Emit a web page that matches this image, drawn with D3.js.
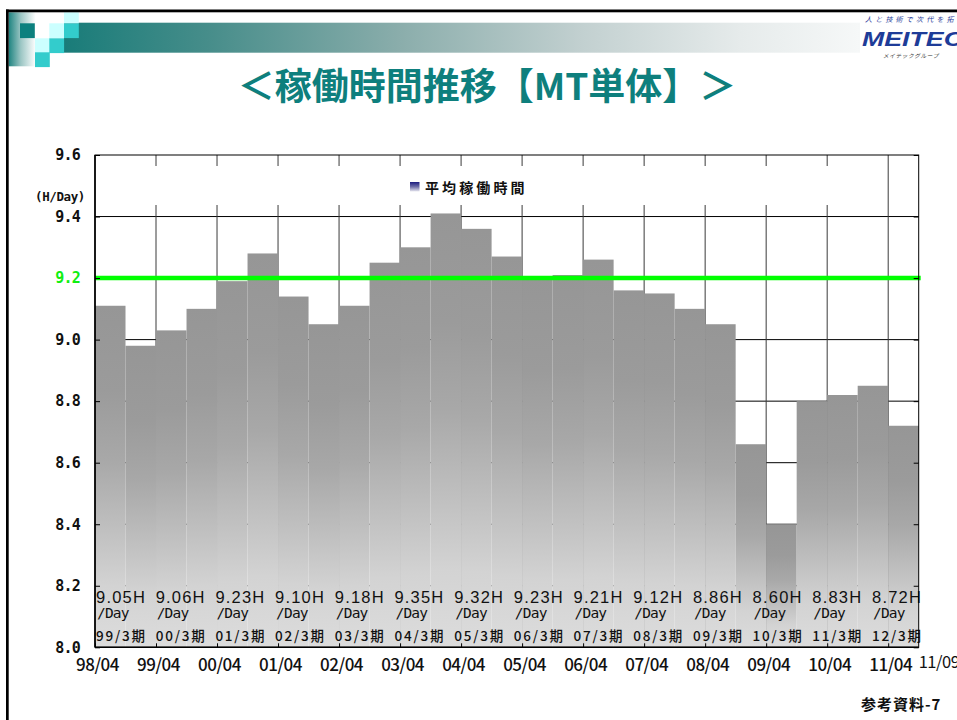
<!DOCTYPE html>
<html>
<head>
<meta charset="utf-8">
<script src="https://cdn.jsdelivr.net/npm/d3@7"></script>
<style>
  html, body { margin: 0; padding: 0; background: #fff; overflow: hidden; }
  svg { display: block; }
</style>
</head>
<body>
<svg id="slide" width="957" height="720"></svg>
<script>
// ---- data -------------------------------------------------------------
// start month of each half-year period
const periods = [
  "1998-04","1998-10","1999-04","1999-10","2000-04","2000-10","2001-04","2001-10",
  "2002-04","2002-10","2003-04","2003-10","2004-04","2004-10","2005-04","2005-10",
  "2006-04","2006-10","2007-04","2007-10","2008-04","2008-10","2009-04","2009-10",
  "2010-04","2010-10","2011-04"
];
// average working hours per day for each half-year
const hours = [
  9.11, 8.98, 9.03, 9.10, 9.19, 9.28, 9.14, 9.05,
  9.11, 9.25, 9.30, 9.41, 9.36, 9.27, 9.20, 9.21,
  9.26, 9.16, 9.15, 9.10, 9.05, 8.66, 8.40, 8.80,
  8.82, 8.85, 8.72
];
const targetHours = 9.2;
const yTicks = [8.0, 8.2, 8.4, 8.6, 8.8, 9.0, 9.2, 9.4, 9.6];
const xTickLabels = ["98/04","99/04","00/04","01/04","02/04","03/04","04/04",
                     "05/04","06/04","07/04","08/04","09/04","10/04","11/04"];
const endTickLabel = "11/09";
// fiscal-year averages (H/Day)
const fiscalTerms = ["99/3期","00/3期","01/3期","02/3期","03/3期","04/3期","05/3期",
                     "06/3期","07/3期","08/3期","09/3期","10/3期","11/3期","12/3期"];
const fiscalAvg = [9.05, 9.06, 9.23, 9.10, 9.18, 9.35, 9.32,
                   9.23, 9.21, 9.12, 8.86, 8.60, 8.83, 8.72];
const legendLabel = "平均稼働時間";
const unitLabel = "(H/Day)";
const titleText = "＜稼働時間推移【MT単体】＞";

// ---- setup ------------------------------------------------------------
const svg = d3.select("#slide");
const defs = svg.append("defs");
const parseMonth = d3.timeParse("%Y-%m");
const parseTick = d3.timeParse("%y/%m");
const origin = parseMonth(periods[0]);
const monthIndex = d => d3.timeMonth.count(origin, d);
const lastStart = parseMonth(periods[periods.length - 1]);
const endMonth = monthIndex(lastStart) + 6;

const plot = { left: 95, right: 918.7, top: 155, bottom: 647.3 };
const x = d3.scaleLinear().domain([0, endMonth]).range([plot.left, plot.right]);
const y = d3.scaleLinear().domain([8.0, 9.6]).range([plot.bottom, plot.top]);

const monoFont = "'DejaVu Sans Mono', 'Liberation Mono', monospace";
const cjkFont = "'Noto Sans CJK JP', 'Noto Sans', sans-serif";
const sansFont = "'Liberation Sans', Arial, sans-serif";

// ---- gradients --------------------------------------------------------
function linGrad(id, x2, y2, stops) {
  const g = defs.append("linearGradient").attr("id", id)
    .attr("x1", 0).attr("y1", 0).attr("x2", x2).attr("y2", y2);
  stops.forEach(([o, c]) => g.append("stop").attr("offset", o).attr("stop-color", c));
}
linGrad("headBar", 1, 0, [[0, "#197c79"], [0.18, "#468d8a"], [0.42, "#8aadab"],
                          [0.65, "#c2d0d0"], [0.85, "#e6ebeb"], [1, "#f6f8f8"]]);
linGrad("edgeStrip", 1, 0, [[0, "#1f8481"], [0.45, "#9cc6c4"], [1, "#ffffff"]]);
linGrad("barFill", 0, 1, [[0, "#969696"], [0.25, "#9b9b9b"], [0.45, "#a8a8a8"],
                          [0.65, "#bfbfbf"], [0.82, "#d3d3d3"], [1, "#dcdcdc"]]);
linGrad("legendKey", 0, 1, [[0, "#1c1c80"], [0.5, "#6f6fa8"], [1, "#e8e8f0"]]);

// ---- slide frame and header decoration --------------------------------
svg.append("rect").attr("width", 957).attr("height", 720).attr("fill", "#fff");
svg.append("rect").attr("x", 8.7).attr("y", 12.3).attr("width", 27).attr("height", 54)
  .attr("fill", "url(#edgeStrip)");
svg.append("rect").attr("x", 64).attr("y", 22.7).attr("width", 796).attr("height", 30)
  .attr("fill", "url(#headBar)");
const tiles = [
  [20, 23.3, "#0b807e"], [49.3, 23.3, "#ccffff"], [64, 23.3, "#33cccc"],
  [35, 38.3, "#ccffff"], [49.3, 38.3, "#33cccc"], [35, 52.3, "#33cccc"]
];
svg.selectAll("rect.tile").data(tiles).join("rect").attr("class", "tile")
  .attr("x", d => d[0]).attr("y", d => d[1]).attr("width", 14.8).attr("height", 14.8)
  .attr("fill", d => d[2]);
svg.append("rect").attr("x", 64).attr("y", 12.3).attr("width", 14.8).attr("height", 11)
  .attr("fill", "#ccffff");
svg.append("rect").attr("x", 6).attr("y", 9.5).attr("width", 951).attr("height", 2.8).attr("fill", "#000");
svg.append("rect").attr("x", 6).attr("y", 9.5).attr("width", 2.7).attr("height", 711).attr("fill", "#000");

// company mark
svg.append("text").attr("x", 865).attr("y", 21.5)
  .attr("font-family", cjkFont).attr("font-size", 7).attr("font-style", "italic")
  .attr("letter-spacing", 3.2).attr("fill", "#1f3d9a").text("人と技術で次代を拓");
svg.append("text").attr("x", 862).attr("y", 45.5)
  .attr("font-family", sansFont).attr("font-size", 21).attr("font-weight", "bold")
  .attr("font-style", "italic").attr("fill", "#1e3c98")
  .attr("textLength", 101).attr("lengthAdjust", "spacingAndGlyphs").text("MEITEC");
svg.append("text").attr("x", 883).attr("y", 58)
  .attr("font-family", cjkFont).attr("font-size", 5.6).attr("font-style", "italic")
  .attr("letter-spacing", 0.7).attr("fill", "#333").text("メイテックグループ");

// title
svg.append("text").attr("x", 487).attr("y", 100).attr("text-anchor", "middle")
  .attr("font-family", cjkFont).attr("font-size", 37).attr("font-weight", "bold")
  .attr("fill", "#0e7f7d").text(titleText);

// ---- chart ------------------------------------------------------------
const chart = svg.append("g");
const yearTicks = xTickLabels.map(s => monthIndex(parseTick(s)));

// grid
chart.append("g").selectAll("line").data(yTicks.filter(v => v > 8.0 && v < 9.6)).join("line")
  .attr("x1", plot.left).attr("x2", plot.right)
  .attr("y1", d => y(d)).attr("y2", d => y(d))
  .attr("stroke", "#000").attr("stroke-width", 1);
chart.append("g").selectAll("line").data(yearTicks.slice(1)).join("line")
  .attr("x1", d => x(d)).attr("x2", d => x(d))
  .attr("y1", plot.top).attr("y2", plot.bottom)
  .attr("stroke", "#3a3a3a").attr("stroke-width", 1);

// legend panel (covers the upper grid)
chart.append("rect").attr("x", plot.left + 1.5).attr("y", 166)
  .attr("width", 775).attr("height", 39).attr("fill", "#fff");
chart.append("rect").attr("x", 410).attr("y", 182).attr("width", 9.5).attr("height", 9.5)
  .attr("fill", "url(#legendKey)");
chart.append("text").attr("x", 425).attr("y", 192.5)
  .attr("font-family", cjkFont).attr("font-size", 14).attr("font-weight", "bold")
  .attr("letter-spacing", 3.1).attr("fill", "#111").text(legendLabel);

// bars
const barData = periods.map((p, i) => {
  const s = monthIndex(parseMonth(p));
  return { s, e: s + 6, v: hours[i] };
});
chart.append("g").selectAll("rect").data(barData).join("rect")
  .attr("x", d => x(d.s)).attr("width", d => x(d.e) - x(d.s))
  .attr("y", d => y(d.v)).attr("height", d => y(8.0) - y(d.v))
  .attr("fill", "url(#barFill)");

// target line
chart.append("line")
  .attr("x1", plot.left).attr("x2", plot.right + 2)
  .attr("y1", y(targetHours)).attr("y2", y(targetHours))
  .attr("stroke", "#00ff00").attr("stroke-width", 4.5);

// fiscal-year labels along the bottom: value, unit and term stacked in one text
const labelX = d3.scalePoint().domain(d3.range(fiscalTerms.length)).range([96, 872]);
const fmt2 = d3.format(".2f");
const lab = chart.append("g").selectAll("text").data(fiscalTerms).join("text")
  .attr("fill", "#111");
lab.append("tspan").attr("x", (d, i) => labelX(i)).attr("y", 603)
  .attr("font-family", sansFont).attr("font-size", 16.5).attr("letter-spacing", 1.2)
  .text((d, i) => fmt2(fiscalAvg[i]) + "H");
lab.append("tspan").attr("x", (d, i) => labelX(i) + 1).attr("y", 617.5)
  .attr("font-family", monoFont).attr("font-size", 14.5).attr("letter-spacing", -0.8)
  .text("/Day");
lab.append("tspan").attr("x", (d, i) => labelX(i)).attr("y", 641)
  .attr("font-family", cjkFont).attr("font-size", 13.5).attr("font-weight", 500)
  .attr("letter-spacing", 1.8).text(d => d);

// frame
chart.append("rect").attr("x", plot.left).attr("y", plot.top)
  .attr("width", plot.right - plot.left).attr("height", plot.bottom - plot.top)
  .attr("fill", "none").attr("stroke", "#000").attr("stroke-width", 1);
chart.append("line").attr("x1", plot.left).attr("x2", plot.left)
  .attr("y1", plot.top).attr("y2", plot.bottom).attr("stroke", "#000").attr("stroke-width", 1.6);
chart.append("line").attr("x1", plot.left).attr("x2", plot.right)
  .attr("y1", plot.bottom).attr("y2", plot.bottom).attr("stroke", "#000").attr("stroke-width", 1.6);

// left axis
const yAxis = chart.append("g").attr("transform", `translate(${plot.left},0)`)
  .call(d3.axisLeft(y).tickValues(yTicks).tickSize(-5).tickPadding(15).tickFormat(d3.format(".1f")));
yAxis.select(".domain").remove();
yAxis.selectAll("line").attr("stroke", "#000");
yAxis.selectAll("text")
  .attr("font-family", monoFont).attr("font-size", 15).attr("font-weight", "bold")
  .attr("letter-spacing", -0.8)
  .attr("fill", d => d === targetHours ? "#11ee11" : "#111");

// right axis ticks
const rAxis = chart.append("g").attr("transform", `translate(${plot.right},0)`)
  .call(d3.axisRight(y).tickValues(yTicks).tickSize(-5).tickFormat(""));
rAxis.select(".domain").remove();
rAxis.selectAll("line").attr("stroke", "#000");

// bottom axis
const xAxis = chart.append("g").attr("transform", `translate(0,${plot.bottom})`)
  .call(d3.axisBottom(x).tickValues(yearTicks).tickSize(-4).tickPadding(11.5)
    .tickFormat((d, i) => xTickLabels[i]));
xAxis.select(".domain").remove();
xAxis.selectAll("line").attr("stroke", "#000");
xAxis.selectAll("text")
  .attr("dx", 2)
  .attr("font-family", cjkFont).attr("font-size", 17).attr("font-weight", 500)
  .attr("letter-spacing", -0.5)
  .attr("fill", "#111");
chart.append("text").attr("x", x(endMonth)).attr("y", 668)
  .attr("font-family", cjkFont).attr("font-size", 16.5)
  .attr("letter-spacing", -0.5).attr("fill", "#111").text(endTickLabel);

// unit label
chart.append("text").attr("x", 35).attr("y", 200.5)
  .attr("font-family", monoFont).attr("font-size", 12.5).attr("font-weight", "bold")
  .attr("letter-spacing", -0.4).attr("fill", "#111").text(unitLabel);

// page reference
svg.append("text").attr("x", 861).attr("y", 710)
  .attr("font-family", cjkFont).attr("font-size", 15).attr("font-weight", "bold")
  .attr("letter-spacing", 1).attr("fill", "#111").text("参考資料-7");
</script>
</body>
</html>
